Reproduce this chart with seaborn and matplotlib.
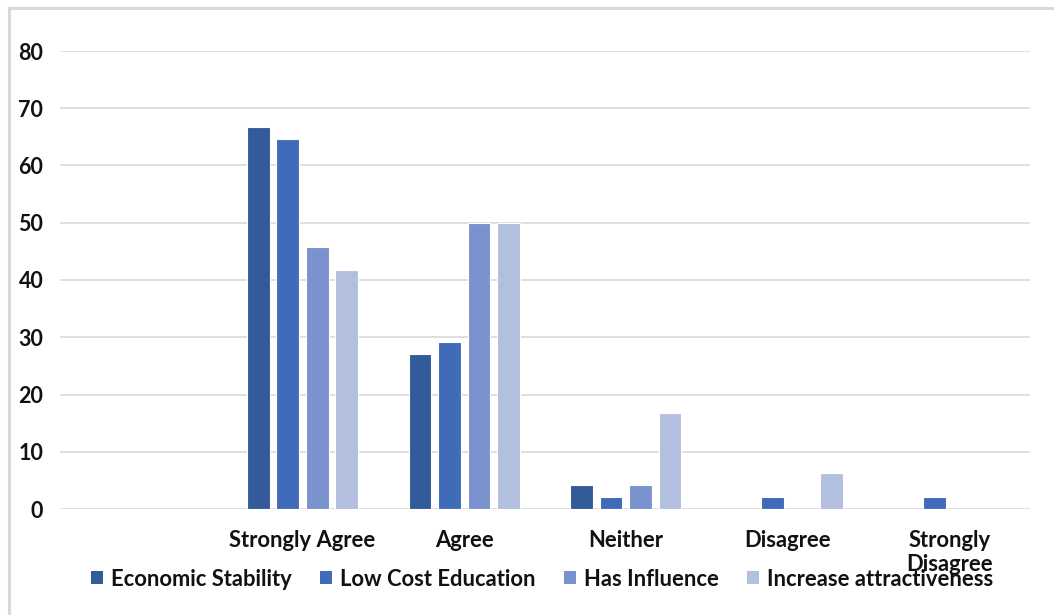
import matplotlib
matplotlib.use("Agg")
import matplotlib.pyplot as plt
from matplotlib.patches import Rectangle
import seaborn as sns
import pandas as pd

# Survey response shares (%) for each statement
categories = ["", "Strongly Agree", "Agree", "Neither", "Disagree", "Strongly Disagree"]
tick_labels = ["", "Strongly Agree", "Agree", "Neither", "Disagree", "Strongly\nDisagree"]
series = ["Economic Stability", "Low Cost Education", "Has Influence", "Increase attractiveness"]
economic_stability = [66.7, 27.1, 4.2, 0.0, 0.0]
low_cost_education = [64.6, 29.2, 2.1, 2.1, 2.1]
has_influence = [45.8, 50.0, 4.2, 0.0, 0.0]
increase_attractiveness = [41.7, 50.0, 16.7, 6.3, 0.0]
colors = ["#335A99", "#3F6BB8", "#7A92CD", "#B3BFDF"]

values = [economic_stability, low_cost_education, has_influence, increase_attractiveness]
rows = []
for name, vals in zip(series, values):
    for cat, v in zip(categories[1:], vals):
        if v > 0:
            rows.append({"Response": cat, "Series": name, "Percent": v})
df = pd.DataFrame(rows)

sns.set_theme(style="white")
plt.rcParams["font.family"] = ["Lato", "DejaVu Sans"]
plt.rcParams["font.weight"] = "bold"

fig = plt.figure(figsize=(10.54, 6.15), dpi=100)
ax = fig.add_axes([60 / 1054, 106 / 615, 970 / 1054, 458 / 615])

sns.barplot(data=df, x="Response", y="Percent", hue="Series",
            order=categories, hue_order=series, palette=colors, saturation=1,
            width=0.728, gap=0.23, edgecolor="white", linewidth=0.8,
            errorbar=None, legend=False, ax=ax)

ax.set_ylim(0, 80)
ax.set_xlim(-0.5, len(categories) - 0.5)
ax.set_yticks(range(0, 81, 10))
ax.yaxis.grid(True, color="#D9D9D9", linewidth=1.2)
ax.set_axisbelow(True)
for s in ax.spines.values():
    s.set_visible(False)
ax.set_xlabel("")
ax.set_ylabel("")
ax.set_xticks(range(len(categories)))
ax.set_xticklabels(tick_labels, fontsize=15.8, fontweight="bold", color="#111111",
                   linespacing=1.2, va="top")
ax.tick_params(axis="x", length=0, pad=15)
ax.tick_params(axis="y", length=0, pad=12, labelsize=15.5, labelcolor="#111111")
for t in ax.get_yticklabels():
    t.set_fontweight("bold")

handles = [Rectangle((0, 0), 1, 1, facecolor=c, edgecolor="none") for c in colors]
fig.legend(handles, series, loc="center", bbox_to_anchor=(542 / 1054, 1 - 579 / 615),
           ncol=4, frameon=False, prop={"size": 15.8, "weight": "bold"},
           handlelength=0.55, handleheight=0.55, handletextpad=0.35,
           columnspacing=1.3, labelcolor="#111111")

# light frame along top and left edges
fig.add_artist(Rectangle((9 / 1054, -0.1), 1.2, 1 - 8 / 615 + 0.1,
                         transform=fig.transFigure, facecolor="none",
                         edgecolor="#D9D9D9", linewidth=2.2))

fig.savefig("out.png", dpi=100, facecolor="white")
